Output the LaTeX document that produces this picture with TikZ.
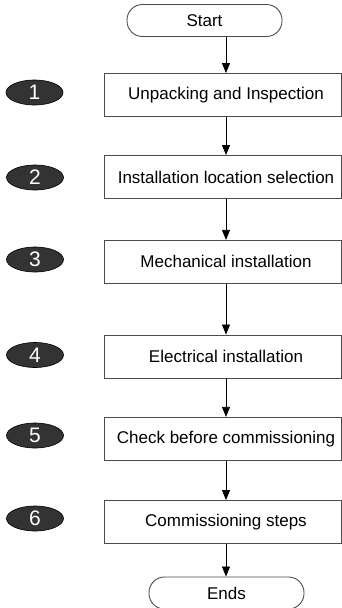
\documentclass[tikz,border=0pt]{standalone}
\usepackage{fontspec}
\setmainfont{Liberation Sans}
\usetikzlibrary{arrows.meta,shapes.geometric}
\begin{document}
\begin{tikzpicture}[x=1pt,y=-1pt,
  stepbox/.style={draw=black!70, line width=0.9pt, minimum width=237pt, minimum height=43pt, inner sep=0pt,
    font=\fontsize{17}{20}\selectfont, execute at begin node=\hspace*{7pt}},
  pill/.style={draw=black!70, line width=0.9pt, rounded corners=15.5pt, minimum width=155pt, minimum height=32pt,
    inner sep=0pt, font=\fontsize{17}{20}\selectfont},
  num/.style={ellipse, fill=black!80, draw=black, line width=0.6pt, minimum width=57pt, minimum height=25pt,
    inner sep=0pt, outer sep=0pt, text=white, font=\fontsize{21}{22}\selectfont},
  flow/.style={black, line width=0.8pt, -{Triangle[length=10pt,width=8pt]}}]
\useasboundingbox (0,0) rectangle (342,608);
\coordinate (ax) at (226,0);
\node[pill] (start) at (204.5,20.5) {Start};
\node[stepbox] (b1) at (222.5,95) {Unpacking and Inspection};
\node[stepbox] (b2) at (222.5,177) {Installation location selection};
\node[stepbox] (b3) at (222.5,261.8) {Mechanical installation};
\node[stepbox] (b4) at (222.5,356.5) {Electrical installation};
\node[stepbox] (b5) at (222.5,438.8) {Check before commissioning};
\node[stepbox] (b6) at (222.5,522) {Commissioning steps};
\node[pill] (ends) at (226.5,593) {Ends};
\node[num] (n1) at (34.5,92.5) {1};
\node[num] (n2) at (35,177.5) {2};
\node[num] (n3) at (35,259.5) {3};
\node[num] (n4) at (35,355) {4};
\node[num] (n5) at (35,435.5) {5};
\node[num] (n6) at (35,518.5) {6};
\draw[flow] (start.south -| ax) -- (b1.north -| ax);
\draw[flow] (b1.south -| ax) -- (b2.north -| ax);
\draw[flow] (b2.south -| ax) -- (b3.north -| ax);
\draw[flow] (b3.south -| ax) -- (b4.north -| ax);
\draw[flow] (b4.south -| ax) -- (b5.north -| ax);
\draw[flow] (b5.south -| ax) -- (b6.north -| ax);
\draw[flow] (b6.south -| ax) -- (ends.north -| ax);
\end{tikzpicture}
\end{document}
